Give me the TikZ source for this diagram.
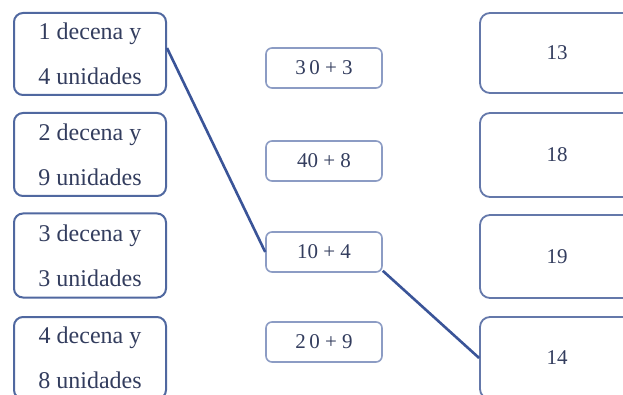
\documentclass[tikz,border=0pt]{standalone}
\usepackage{fontspec}
\setmainfont{Liberation Serif}
\definecolor{txt}{HTML}{333D5E}
\definecolor{lbord}{HTML}{5068A0}
\definecolor{mbord}{HTML}{8C9CC4}
\definecolor{rbord}{HTML}{6478AA}
\definecolor{link}{HTML}{3A5498}
\begin{document}
\begin{tikzpicture}[x=1pt,y=-1pt,
  lbox/.style={draw=lbord,line width=2pt,rounded corners=9pt,minimum width=152pt,text=txt,align=center,inner sep=0pt,
    font=\fontsize{24}{45}\selectfont},
  mbox/.style={draw=mbord,line width=1.6pt,rounded corners=6pt,minimum width=116pt,minimum height=40pt,text=txt,inner sep=0pt,
    font=\fontsize{21}{24}\selectfont},
  rbox/.style={draw=rbord,line width=1.8pt,rounded corners=10pt,minimum width=154pt,text=txt,inner sep=0pt,
    font=\fontsize{21}{24}\selectfont},
  linkline/.style={draw=link,line width=2.6pt}]
\clip (0,0) rectangle (623,395);
\fill[white] (0,0) rectangle (623,395);
\node[lbox,minimum height=82pt] (L1) at (90,54) {1 decena y\\4 unidades};
\node[lbox,minimum height=83pt] (L2) at (90,154.5) {2 decena y\\9 unidades};
\node[lbox,minimum height=84pt] (L3) at (90,255.5) {3 decena y\\3 unidades};
\node[lbox,minimum height=82pt] (L4) at (90,358) {4 decena y\\8 unidades};
\node[mbox] (M1) at (324,68) {3\,0 + 3};
\node[mbox] (M2) at (324,161) {40 + 8};
\node[mbox] (M3) at (324,252) {10 + 4};
\node[mbox] (M4) at (324,342) {2\,0 + 9};
\node[rbox,minimum height=80pt] (R1) at (557,53) {13};
\node[rbox,minimum height=84pt] (R2) at (557,155) {18};
\node[rbox,minimum height=83pt] (R3) at (557,256.5) {19};
\node[rbox,minimum height=82pt] (R4) at (557,358) {14};
\draw[linkline] ([yshift=6pt]L1.east) -- (M3.west);
\draw[linkline] ([yshift=2pt]M3.south east) -- (R4.west);
\end{tikzpicture}
\end{document}
